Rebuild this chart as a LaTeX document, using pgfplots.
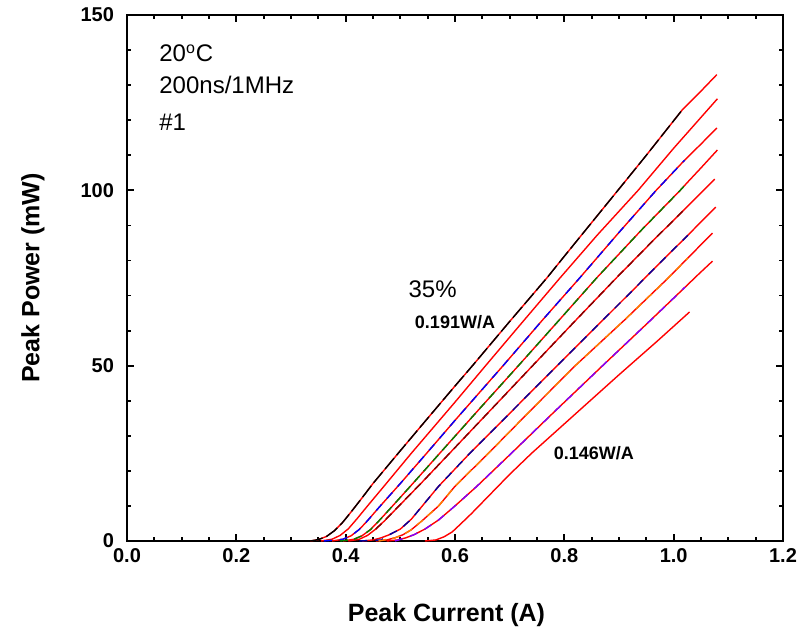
\documentclass[border=0pt]{standalone}
\usepackage{pgfplots}
\pgfplotsset{compat=1.18}
\usepackage{fontspec}
\setmainfont{Liberation Sans}
\usetikzlibrary{calc}
\definecolor{cRed}{HTML}{FF0000}
\definecolor{cBlue}{HTML}{0000FF}
\definecolor{cGreen}{HTML}{008000}
\definecolor{cBrown}{HTML}{800000}
\definecolor{cNavy}{HTML}{0000A0}
\definecolor{cOrange}{HTML}{FF8000}
\definecolor{cPurple}{HTML}{8000FF}

\begin{document}
\begin{tikzpicture}
\begin{axis}[
    name=ax,
    width=328pt, height=263pt, scale only axis,
    xmin=0, xmax=1.2, ymin=0, ymax=150,
    xtick={0,0.2,0.4,0.6,0.8,1.0,1.2},
    ytick={0,50,100,150},
    minor x tick num=3, minor y tick num=4,
    tick align=inside, tick pos=both,
    major tick length=3.5pt, minor tick length=2pt,
    every tick/.style={black, line width=0.9pt},
    axis line style={line width=1.2pt},
    /pgf/number format/assume math mode=true,
    xticklabel style={/pgf/number format/.cd, fixed, fixed zerofill, precision=1},
    ticklabel style={font=\bfseries\fontsize{10}{12}\selectfont},
    yticklabel style={xshift=-3pt},
    xlabel={Peak Current (A)},
    ylabel={Peak Power (mW)},
    every axis x label/.style={at={(axis description cs:0.487,-0.1407)}, anchor=center,
        font=\bfseries\fontsize{12.5}{15}\selectfont},
    every axis y label/.style={at={(axis description cs:-0.1433,0.5)}, anchor=center, rotate=90,
        font=\bfseries\fontsize{12.5}{15}\selectfont},
    every axis plot/.append style={line width=0.7pt},
]

% --- red traces (drawn first, coloured data on top) ---
\addplot[cRed] coordinates {(0.335,0) (0.350,0.4) (0.365,1.3) (0.380,3.0) (0.395,5.4) (0.410,8.3) (0.430,12.3) (0.450,16.4) (0.496,25.0) (0.55,35.0) (0.60,44.2) (0.632,50.0) (0.70,62.6) (0.768,75.0) (0.80,81.2) (0.85,90.8) (0.898,100.0) (0.95,110.0) (1.016,123.0) (1.05,128.3) (1.079,133.0)};
\addplot[cRed] coordinates {(0.355,0) (0.375,0.5) (0.390,1.6) (0.405,3.5) (0.420,6.2) (0.440,10.0) (0.470,15.6) (0.520,25.0) (0.60,39.6) (0.656,50.0) (0.72,61.8) (0.792,75.0) (0.86,87.2) (0.935,100.0) (1.00,112.0) (1.080,126.1)};
\addplot[cRed] coordinates {(0.375,0) (0.395,0.5) (0.410,1.5) (0.425,3.3) (0.440,5.8) (0.460,9.4) (0.50,16.4) (0.548,25.0) (0.60,34.4) (0.688,50.0) (0.76,63.0) (0.828,75.0) (0.90,88.0) (0.968,100.0) (1.020,108.6) (1.05,113.2) (1.079,117.8)};
\addplot[cRed] coordinates {(0.395,0) (0.415,0.5) (0.430,1.5) (0.445,3.2) (0.460,5.6) (0.480,9.0) (0.52,15.9) (0.572,25.0) (0.65,38.6) (0.716,50.0) (0.79,62.9) (0.859,75.0) (0.94,88.5) (1.012,100.0) (1.026,102.4) (1.05,106.4) (1.080,111.5)};
\addplot[cRed] coordinates {(0.405,0) (0.425,0.5) (0.440,1.6) (0.455,3.4) (0.470,5.6) (0.490,8.8) (0.54,16.8) (0.590,25.0) (0.66,36.5) (0.742,50.0) (0.82,62.8) (0.895,75.0) (0.96,85.3) (1.02,94.6) (1.075,103.2)};
\addplot[cRed] coordinates {(0.430,0) (0.450,0.3) (0.465,0.9) (0.480,1.8) (0.500,3.4) (0.52,6.2) (0.57,15.6) (0.627,25.0) (0.70,36.4) (0.778,48.6) (0.85,59.8) (0.929,72.1) (0.98,80.1) (1.026,87.2) (1.05,91.0) (1.077,95.2)};
\addplot[cRed] coordinates {(0.455,0) (0.475,0.3) (0.490,0.9) (0.505,1.8) (0.520,3.2) (0.54,5.8) (0.57,10.0) (0.60,15.6) (0.661,25.0) (0.74,37.5) (0.82,50.0) (0.91,63.0) (0.990,75.0) (1.026,80.7) (1.05,84.5) (1.071,87.8)};
\addplot[cRed] coordinates {(0.475,0) (0.495,0.3) (0.510,0.9) (0.525,1.8) (0.545,3.4) (0.57,6.0) (0.60,10.0) (0.64,15.6) (0.703,25.0) (0.78,36.6) (0.87,50.0) (0.95,61.8) (1.021,72.4) (1.045,76.0) (1.071,79.8)};
\addplot[cRed] coordinates {(0.545,0) (0.565,0.3) (0.580,1.2) (0.595,2.6) (0.61,4.8) (0.63,7.8) (0.66,12.6) (0.70,19.0) (0.740,25.0) (0.82,36.2) (0.90,47.4) (0.97,57.0) (1.029,65.3)};

% --- coloured measured data ---
\addplot[black, dash pattern=on 7pt off 2pt] coordinates {(0.300,0) (0.335,0) (0.350,0.4) (0.365,1.3) (0.380,3.0) (0.395,5.4) (0.410,8.3) (0.430,12.3) (0.450,16.4) (0.496,25.0) (0.55,35.0) (0.60,44.2) (0.632,50.0) (0.70,62.6) (0.768,75.0) (0.80,81.2) (0.85,90.8) (0.898,100.0) (0.95,110.0) (1.016,123.0)};
\addplot[cBlue, dash pattern=on 4pt off 4pt] coordinates {(0.360,0) (0.395,0.5) (0.410,1.5) (0.425,3.3) (0.440,5.8) (0.460,9.4) (0.50,16.4) (0.548,25.0) (0.60,34.4) (0.688,50.0) (0.76,63.0) (0.828,75.0) (0.90,88.0) (0.968,100.0) (1.020,108.6)};
\addplot[cGreen, dash pattern=on 4pt off 3pt] coordinates {(0.390,0) (0.415,0.5) (0.430,1.5) (0.445,3.2) (0.460,5.6) (0.480,9.0) (0.52,15.9) (0.572,25.0) (0.65,38.6) (0.716,50.0) (0.79,62.9) (0.859,75.0) (0.94,88.5) (1.012,100.0) (1.026,102.4)};
\addplot[cBrown, dash pattern=on 4pt off 3pt] coordinates {(0.455,3.4) (0.470,5.6) (0.490,8.8) (0.54,16.8) (0.590,25.0) (0.66,36.5) (0.742,50.0) (0.82,62.8) (0.895,75.0) (0.96,85.3) (1.02,94.6)};
\addplot[cNavy, dash pattern=on 4pt off 4pt] coordinates {(0.425,0) (0.465,0.3) (0.480,1.8) (0.500,3.4) (0.52,6.2) (0.57,15.6) (0.627,25.0) (0.70,36.4) (0.778,48.6) (0.85,59.8) (0.929,72.1) (0.98,80.1) (1.026,87.2)};
\addplot[cOrange, dash pattern=on 4pt off 3pt] coordinates {(0.460,0) (0.490,0.9) (0.505,1.8) (0.520,3.2) (0.54,5.8) (0.57,10.0) (0.60,15.6) (0.661,25.0) (0.74,37.5) (0.82,50.0) (0.91,63.0) (0.990,75.0) (1.026,80.7)};
\addplot[cPurple, dash pattern=on 4pt off 4pt] coordinates {(0.490,0) (0.510,0.9) (0.525,1.8) (0.545,3.4) (0.57,6.0) (0.60,10.0) (0.64,15.6) (0.703,25.0) (0.78,36.6) (0.87,50.0) (0.95,61.8) (1.021,72.4)};

% --- annotations ---
\node[anchor=west, font=\fontsize{12}{14}\selectfont, inner sep=0pt] at (axis cs:0.0585,139.1) {20\textsuperscript{o}C};
\node[anchor=west, font=\fontsize{12}{14}\selectfont, inner sep=0pt] at (axis cs:0.0585,130.0) {200ns/1MHz};
\node[anchor=west, font=\fontsize{12}{14}\selectfont, inner sep=0pt] at (axis cs:0.0585,119.5) {\#1};
\node[font=\fontsize{12}{14}\selectfont, inner sep=0pt] at (axis cs:0.559,71.9) {35\%};
\node[font=\bfseries\fontsize{9}{11}\selectfont, inner sep=0pt] at (axis cs:0.600,62.4) {0.191W/A};
\node[font=\bfseries\fontsize{9}{11}\selectfont, inner sep=0pt] at (axis cs:0.854,25.1) {0.146W/A};
\end{axis}
\pgfresetboundingbox
\path[use as bounding box] ($(ax.south west)+(-63.5pt,-48.5pt)$) rectangle ($(ax.north east)+(8pt,7.5pt)$);
\end{tikzpicture}
\end{document}
